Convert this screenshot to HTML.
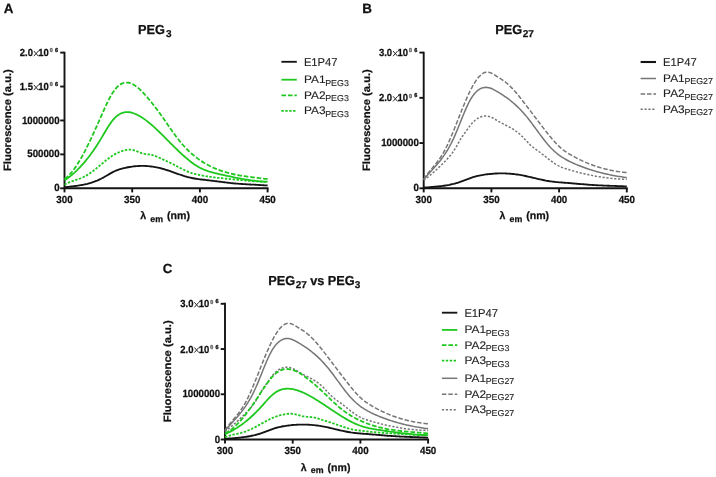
<!DOCTYPE html>
<html><head><meta charset="utf-8"><style>
html,body{margin:0;padding:0;background:#fff;width:716px;height:477px;overflow:hidden}
svg{display:block;filter:blur(0.3px);font-family:"Liberation Sans", sans-serif;text-rendering:geometricPrecision}
</style></head><body>
<svg width="716" height="477" viewBox="0 0 716 477">
<rect width="716" height="477" fill="#fff"/>
<g opacity="0.999">
<text x="3.70" y="12.90" font-size="13.4" font-weight="bold" text-anchor="start" fill="#111111" stroke="#111111" stroke-width="0.25">A</text>
<g transform="translate(137.89,34.20) scale(0.980,1.000)"><text x="0" y="0" font-size="13" font-weight="bold" text-anchor="start" fill="#111111" stroke="#111111" stroke-width="0.25">PEG</text></g>
<text x="166.01" y="36.90" font-size="10" font-weight="bold" text-anchor="start" fill="#111111" stroke="#111111" stroke-width="0.25">3</text>
<path d="M64.50,52.60 V188.30 H267.60" fill="none" stroke="#141414" stroke-width="1.9" stroke-linecap="square"/>
<path d="M60.20,188.30 H64.50" stroke="#141414" stroke-width="1.9"/>
<g transform="translate(59.65,191.40) scale(1.000,1.080)"><text x="0" y="0" font-size="9.7" font-weight="bold" text-anchor="end" fill="#111111" stroke="#111111" stroke-width="0.25">0</text></g>
<path d="M60.20,154.38 H64.50" stroke="#141414" stroke-width="1.9"/>
<g transform="translate(59.65,157.47) scale(1.000,1.080)"><text x="0" y="0" font-size="9.7" font-weight="bold" text-anchor="end" fill="#111111" stroke="#111111" stroke-width="0.25">500000</text></g>
<path d="M60.20,120.45 H64.50" stroke="#141414" stroke-width="1.9"/>
<g transform="translate(59.65,123.55) scale(1.000,1.080)"><text x="0" y="0" font-size="9.7" font-weight="bold" text-anchor="end" fill="#111111" stroke="#111111" stroke-width="0.25">1000000</text></g>
<path d="M60.20,86.53 H64.50" stroke="#141414" stroke-width="1.9"/>
<g transform="translate(19.71,90.03) scale(1.000,1.080)"><text x="0" y="0" font-size="9.5" font-weight="bold" text-anchor="start" fill="#111111" stroke="#111111" stroke-width="0.25">1.5</text></g>
<g transform="translate(38.33,90.03) scale(1.000,1.080)"><text x="0" y="0" font-size="9.5" font-weight="bold" text-anchor="start" fill="#111111" stroke="#111111" stroke-width="0.25">10</text></g>
<path d="M33.80,84.93 L38.40,90.12 M38.40,84.93 L33.80,90.12" stroke="#2a2a2a" stroke-width="1.0"/>
<g transform="translate(49.78,86.33) scale(0.950,1.000)"><text x="0" y="0" font-size="5.6" font-weight="bold" text-anchor="start" fill="#777777" stroke="#777777" stroke-width="0.6">0</text></g>
<g transform="translate(55.07,86.18) scale(0.950,1.000)"><text x="0" y="0" font-size="5.8" font-weight="bold" text-anchor="start" fill="#111111" stroke="#111111" stroke-width="0.35">6</text></g>
<path d="M60.20,52.60 H64.50" stroke="#141414" stroke-width="1.9"/>
<g transform="translate(19.71,56.10) scale(1.000,1.080)"><text x="0" y="0" font-size="9.5" font-weight="bold" text-anchor="start" fill="#111111" stroke="#111111" stroke-width="0.25">2.0</text></g>
<g transform="translate(38.33,56.10) scale(1.000,1.080)"><text x="0" y="0" font-size="9.5" font-weight="bold" text-anchor="start" fill="#111111" stroke="#111111" stroke-width="0.25">10</text></g>
<path d="M33.80,51.00 L38.40,56.20 M38.40,51.00 L33.80,56.20" stroke="#2a2a2a" stroke-width="1.0"/>
<g transform="translate(49.78,52.40) scale(0.950,1.000)"><text x="0" y="0" font-size="5.6" font-weight="bold" text-anchor="start" fill="#777777" stroke="#777777" stroke-width="0.6">0</text></g>
<g transform="translate(55.07,52.25) scale(0.950,1.000)"><text x="0" y="0" font-size="5.8" font-weight="bold" text-anchor="start" fill="#111111" stroke="#111111" stroke-width="0.35">6</text></g>
<path d="M64.50,188.30 V192.40" stroke="#141414" stroke-width="1.9"/>
<g transform="translate(64.50,202.70) scale(1.000,1.050)"><text x="0" y="0" font-size="9.8" font-weight="bold" text-anchor="middle" fill="#111111" stroke="#111111" stroke-width="0.25">300</text></g>
<path d="M132.20,188.30 V192.40" stroke="#141414" stroke-width="1.9"/>
<g transform="translate(132.20,202.70) scale(1.000,1.050)"><text x="0" y="0" font-size="9.8" font-weight="bold" text-anchor="middle" fill="#111111" stroke="#111111" stroke-width="0.25">350</text></g>
<path d="M199.90,188.30 V192.40" stroke="#141414" stroke-width="1.9"/>
<g transform="translate(199.90,202.70) scale(1.000,1.050)"><text x="0" y="0" font-size="9.8" font-weight="bold" text-anchor="middle" fill="#111111" stroke="#111111" stroke-width="0.25">400</text></g>
<path d="M267.60,188.30 V192.40" stroke="#141414" stroke-width="1.9"/>
<g transform="translate(267.60,202.70) scale(1.000,1.050)"><text x="0" y="0" font-size="9.8" font-weight="bold" text-anchor="middle" fill="#111111" stroke="#111111" stroke-width="0.25">450</text></g>
<text transform="translate(10.60,120.10) rotate(-90)" font-size="10.6" font-weight="bold" text-anchor="middle" fill="#111111" stroke="#111111" stroke-width="0.25" textLength="101.8" lengthAdjust="spacingAndGlyphs">Fluorescence (a.u.)</text>
<text x="140.19" y="219.30" font-size="10.6" font-weight="bold" text-anchor="start" fill="#111111" stroke="#111111" stroke-width="0.25">λ</text>
<text x="150.35" y="221.80" font-size="8.8" font-weight="bold" text-anchor="start" fill="#111111" stroke="#111111" stroke-width="0.25">em</text>
<text x="166.97" y="219.30" font-size="10.6" font-weight="bold" text-anchor="start" fill="#111111" stroke="#111111" stroke-width="0.25">(nm)</text>
<path d="M64.50,187.28 65.85,187.13 67.21,186.98 68.56,186.83 69.92,186.67 71.27,186.52 72.62,186.36 73.98,186.20 75.33,186.02 76.69,185.84 78.04,185.64 79.39,185.43 80.75,185.21 82.10,184.97 83.46,184.71 84.81,184.42 86.16,184.12 87.52,183.79 88.87,183.43 90.23,183.04 91.58,182.63 92.93,182.18 94.29,181.70 95.64,181.18 97.00,180.63 98.35,180.04 99.70,179.41 101.06,178.75 102.41,178.05 103.77,177.32 105.12,176.55 106.47,175.76 107.83,174.95 109.18,174.14 110.54,173.36 111.89,172.60 113.24,171.90 114.60,171.25 115.95,170.67 117.31,170.14 118.66,169.65 120.01,169.22 121.37,168.82 122.72,168.45 124.08,168.12 125.43,167.80 126.78,167.51 128.14,167.25 129.49,167.01 130.85,166.79 132.20,166.60 133.55,166.43 134.91,166.28 136.26,166.16 137.62,166.06 138.97,165.99 140.32,165.94 141.68,165.92 143.03,165.92 144.39,165.95 145.74,166.00 147.09,166.08 148.45,166.18 149.80,166.30 151.16,166.46 152.51,166.64 153.86,166.84 155.22,167.07 156.57,167.32 157.93,167.60 159.28,167.91 160.63,168.24 161.99,168.60 163.34,168.99 164.70,169.39 166.05,169.81 167.40,170.25 168.76,170.70 170.11,171.17 171.47,171.64 172.82,172.12 174.17,172.60 175.53,173.08 176.88,173.56 178.24,174.03 179.59,174.50 180.94,174.96 182.30,175.41 183.65,175.84 185.01,176.26 186.36,176.66 187.71,177.03 189.07,177.38 190.42,177.70 191.78,178.00 193.13,178.27 194.48,178.51 195.84,178.73 197.19,178.94 198.55,179.13 199.90,179.30 201.25,179.47 202.61,179.63 203.96,179.78 205.32,179.94 206.67,180.09 208.02,180.25 209.38,180.41 210.73,180.58 212.09,180.75 213.44,180.92 214.79,181.09 216.15,181.26 217.50,181.44 218.86,181.61 220.21,181.78 221.56,181.95 222.92,182.12 224.27,182.29 225.63,182.45 226.98,182.62 228.33,182.77 229.69,182.92 231.04,183.07 232.40,183.21 233.75,183.34 235.10,183.47 236.46,183.59 237.81,183.70 239.17,183.81 240.52,183.91 241.87,184.00 243.23,184.09 244.58,184.18 245.94,184.26 247.29,184.34 248.64,184.41 250.00,184.49 251.35,184.56 252.71,184.63 254.06,184.70 255.41,184.77 256.77,184.85 258.12,184.92 259.48,185.00 260.83,185.07 262.18,185.15 263.54,185.24 264.89,185.33 266.25,185.42 267.60,185.52" fill="none" stroke="#141414" stroke-width="1.85" stroke-linejoin="round"/>
<path d="M64.50,180.29 65.85,179.40 67.21,178.47 68.56,177.48 69.92,176.45 71.27,175.37 72.62,174.24 73.98,173.06 75.33,171.83 76.69,170.56 78.04,169.23 79.39,167.85 80.75,166.42 82.10,164.93 83.46,163.40 84.81,161.81 86.16,160.18 87.52,158.48 88.87,156.74 90.23,154.94 91.58,153.09 92.93,151.19 94.29,149.23 95.64,147.22 97.00,145.15 98.35,143.03 99.70,140.85 101.06,138.62 102.41,136.34 103.77,134.03 105.12,131.72 106.47,129.45 107.83,127.24 109.18,125.13 110.54,123.14 111.89,121.30 113.24,119.62 114.60,118.12 115.95,116.80 117.31,115.67 118.66,114.70 120.01,113.90 121.37,113.25 122.72,112.76 124.08,112.40 125.43,112.18 126.78,112.09 128.14,112.11 129.49,112.24 130.85,112.48 132.20,112.81 133.55,113.24 134.91,113.74 136.26,114.32 137.62,114.96 138.97,115.68 140.32,116.45 141.68,117.29 143.03,118.18 144.39,119.12 145.74,120.11 147.09,121.15 148.45,122.23 149.80,123.35 151.16,124.51 152.51,125.69 153.86,126.91 155.22,128.15 156.57,129.41 157.93,130.70 159.28,132.00 160.63,133.31 161.99,134.64 163.34,135.98 164.70,137.33 166.05,138.69 167.40,140.05 168.76,141.41 170.11,142.77 171.47,144.12 172.82,145.47 174.17,146.81 175.53,148.15 176.88,149.47 178.24,150.77 179.59,152.06 180.94,153.33 182.30,154.57 183.65,155.79 185.01,156.99 186.36,158.15 187.71,159.29 189.07,160.39 190.42,161.45 191.78,162.48 193.13,163.46 194.48,164.40 195.84,165.30 197.19,166.15 198.55,166.94 199.90,167.69 201.25,168.38 202.61,169.02 203.96,169.61 205.32,170.16 206.67,170.67 208.02,171.14 209.38,171.58 210.73,171.98 212.09,172.37 213.44,172.73 214.79,173.07 216.15,173.40 217.50,173.71 218.86,174.02 220.21,174.32 221.56,174.63 222.92,174.93 224.27,175.23 225.63,175.53 226.98,175.83 228.33,176.12 229.69,176.41 231.04,176.70 232.40,176.99 233.75,177.27 235.10,177.54 236.46,177.81 237.81,178.08 239.17,178.34 240.52,178.60 241.87,178.84 243.23,179.08 244.58,179.32 245.94,179.54 247.29,179.76 248.64,179.97 250.00,180.17 251.35,180.36 252.71,180.54 254.06,180.71 255.41,180.87 256.77,181.02 258.12,181.15 259.48,181.28 260.83,181.39 262.18,181.49 263.54,181.58 264.89,181.65 266.25,181.71 267.60,181.76" fill="none" stroke="#1ec81e" stroke-width="1.8" stroke-linejoin="round"/>
<path d="M64.50,178.86 65.85,177.93 67.21,176.83 68.56,175.60 69.92,174.22 71.27,172.70 72.62,171.06 73.98,169.28 75.33,167.39 76.69,165.39 78.04,163.28 79.39,161.07 80.75,158.76 82.10,156.35 83.46,153.87 84.81,151.30 86.16,148.66 87.52,145.95 88.87,143.18 90.23,140.36 91.58,137.48 92.93,134.55 94.29,131.59 95.64,128.59 97.00,125.56 98.35,122.51 99.70,119.44 101.06,116.37 102.41,113.30 103.77,110.27 105.12,107.30 106.47,104.40 107.83,101.61 109.18,98.95 110.54,96.44 111.89,94.10 113.24,91.96 114.60,90.03 115.95,88.35 117.31,86.89 118.66,85.67 120.01,84.66 121.37,83.86 122.72,83.26 124.08,82.85 125.43,82.62 126.78,82.57 128.14,82.69 129.49,82.96 130.85,83.39 132.20,83.95 133.55,84.65 134.91,85.47 136.26,86.41 137.62,87.46 138.97,88.61 140.32,89.84 141.68,91.16 143.03,92.56 144.39,94.02 145.74,95.54 147.09,97.10 148.45,98.71 149.80,100.35 151.16,102.01 152.51,103.70 153.86,105.42 155.22,107.16 156.57,108.94 157.93,110.74 159.28,112.58 160.63,114.46 161.99,116.36 163.34,118.30 164.70,120.25 166.05,122.21 167.40,124.18 168.76,126.14 170.11,128.10 171.47,130.04 172.82,131.96 174.17,133.85 175.53,135.71 176.88,137.52 178.24,139.28 179.59,140.99 180.94,142.64 182.30,144.23 183.65,145.75 185.01,147.22 186.36,148.64 187.71,149.99 189.07,151.30 190.42,152.56 191.78,153.77 193.13,154.93 194.48,156.04 195.84,157.11 197.19,158.15 198.55,159.14 199.90,160.09 201.25,161.00 202.61,161.88 203.96,162.73 205.32,163.54 206.67,164.31 208.02,165.06 209.38,165.77 210.73,166.46 212.09,167.11 213.44,167.74 214.79,168.33 216.15,168.90 217.50,169.45 218.86,169.97 220.21,170.46 221.56,170.93 222.92,171.38 224.27,171.80 225.63,172.21 226.98,172.60 228.33,172.96 229.69,173.31 231.04,173.64 232.40,173.95 233.75,174.25 235.10,174.54 236.46,174.81 237.81,175.06 239.17,175.31 240.52,175.54 241.87,175.76 243.23,175.97 244.58,176.18 245.94,176.38 247.29,176.56 248.64,176.75 250.00,176.93 251.35,177.10 252.71,177.27 254.06,177.44 255.41,177.60 256.77,177.77 258.12,177.93 259.48,178.10 260.83,178.27 262.18,178.44 263.54,178.61 264.89,178.79 266.25,178.97 267.60,179.16" fill="none" stroke="#1ec81e" stroke-width="1.8" stroke-dasharray="4.6 1.9" stroke-linejoin="round"/>
<path d="M64.50,184.77 65.85,184.01 67.21,183.33 68.56,182.70 69.92,182.13 71.27,181.60 72.62,181.11 73.98,180.63 75.33,180.16 76.69,179.70 78.04,179.23 79.39,178.74 80.75,178.22 82.10,177.66 83.46,177.05 84.81,176.38 86.16,175.65 87.52,174.85 88.87,173.99 90.23,173.08 91.58,172.12 92.93,171.12 94.29,170.08 95.64,169.00 97.00,167.90 98.35,166.77 99.70,165.64 101.06,164.50 102.41,163.36 103.77,162.23 105.12,161.11 106.47,160.02 107.83,158.96 109.18,157.94 110.54,156.97 111.89,156.04 113.24,155.18 114.60,154.38 115.95,153.65 117.31,152.99 118.66,152.40 120.01,151.86 121.37,151.37 122.72,150.93 124.08,150.52 125.43,150.16 126.78,149.86 128.14,149.66 129.49,149.58 130.85,149.65 132.20,149.85 133.55,150.16 134.91,150.56 136.26,151.04 137.62,151.55 138.97,152.09 140.32,152.61 141.68,153.11 143.03,153.54 144.39,153.89 145.74,154.13 147.09,154.31 148.45,154.45 149.80,154.60 151.16,154.79 152.51,155.05 153.86,155.42 155.22,155.90 156.57,156.47 157.93,157.10 159.28,157.76 160.63,158.41 161.99,159.04 163.34,159.66 164.70,160.27 166.05,160.88 167.40,161.49 168.76,162.12 170.11,162.76 171.47,163.42 172.82,164.11 174.17,164.81 175.53,165.52 176.88,166.24 178.24,166.95 179.59,167.67 180.94,168.37 182.30,169.06 183.65,169.73 185.01,170.37 186.36,170.99 187.71,171.57 189.07,172.12 190.42,172.62 191.78,173.07 193.13,173.49 194.48,173.86 195.84,174.21 197.19,174.52 198.55,174.81 199.90,175.09 201.25,175.35 202.61,175.60 203.96,175.85 205.32,176.08 206.67,176.30 208.02,176.51 209.38,176.71 210.73,176.91 212.09,177.09 213.44,177.27 214.79,177.44 216.15,177.61 217.50,177.77 218.86,177.92 220.21,178.07 221.56,178.22 222.92,178.36 224.27,178.50 225.63,178.63 226.98,178.76 228.33,178.90 229.69,179.03 231.04,179.15 232.40,179.28 233.75,179.41 235.10,179.54 236.46,179.67 237.81,179.80 239.17,179.93 240.52,180.06 241.87,180.19 243.23,180.32 244.58,180.45 245.94,180.57 247.29,180.70 248.64,180.82 250.00,180.93 251.35,181.04 252.71,181.15 254.06,181.25 255.41,181.35 256.77,181.44 258.12,181.53 259.48,181.61 260.83,181.68 262.18,181.75 263.54,181.80 264.89,181.85 266.25,181.89 267.60,181.92" fill="none" stroke="#1ec81e" stroke-width="1.8" stroke-dasharray="2.4 1.5" stroke-linejoin="round"/>
<path d="M281.40,61.80 H296.80" stroke="#141414" stroke-width="1.85"/><g transform="translate(303.89,65.80) scale(0.985,1.000)"><text x="0" y="0" font-size="11.4" font-weight="normal" text-anchor="start" fill="#1e1e1e" stroke="#1e1e1e" stroke-width="0.12">E1P47</text></g>
<path d="M281.40,79.70 H296.80" stroke="#1ec81e" stroke-width="1.8"/><g transform="translate(303.92,83.00) scale(1.080,1.000)"><text x="0" y="0" font-size="11" font-weight="normal" text-anchor="start" fill="#1e1e1e" stroke="#1e1e1e" stroke-width="0.12">PA1</text></g><g transform="translate(325.21,85.50) scale(1.030,1.000)"><text x="0" y="0" font-size="8.6" font-weight="normal" text-anchor="start" fill="#1e1e1e" stroke="#1e1e1e" stroke-width="0.12">PEG3</text></g>
<path d="M281.40,95.30 H296.80" stroke="#1ec81e" stroke-width="1.8" stroke-dasharray="4.6 1.9"/><g transform="translate(303.92,98.60) scale(1.080,1.000)"><text x="0" y="0" font-size="11" font-weight="normal" text-anchor="start" fill="#1e1e1e" stroke="#1e1e1e" stroke-width="0.12">PA2</text></g><g transform="translate(325.21,101.10) scale(1.030,1.000)"><text x="0" y="0" font-size="8.6" font-weight="normal" text-anchor="start" fill="#1e1e1e" stroke="#1e1e1e" stroke-width="0.12">PEG3</text></g>
<path d="M281.40,110.80 H296.80" stroke="#1ec81e" stroke-width="1.8" stroke-dasharray="2.4 1.5"/><g transform="translate(303.92,114.10) scale(1.080,1.000)"><text x="0" y="0" font-size="11" font-weight="normal" text-anchor="start" fill="#1e1e1e" stroke="#1e1e1e" stroke-width="0.12">PA3</text></g><g transform="translate(325.21,116.60) scale(1.030,1.000)"><text x="0" y="0" font-size="8.6" font-weight="normal" text-anchor="start" fill="#1e1e1e" stroke="#1e1e1e" stroke-width="0.12">PEG3</text></g>
<text x="362.26" y="12.90" font-size="13.4" font-weight="bold" text-anchor="start" fill="#111111" stroke="#111111" stroke-width="0.25">B</text>
<g transform="translate(495.29,34.20) scale(0.980,1.000)"><text x="0" y="0" font-size="13" font-weight="bold" text-anchor="start" fill="#111111" stroke="#111111" stroke-width="0.25">PEG</text></g>
<text x="522.72" y="36.90" font-size="10" font-weight="bold" text-anchor="start" fill="#111111" stroke="#111111" stroke-width="0.25">27</text>
<path d="M423.70,52.60 V188.30 H626.80" fill="none" stroke="#141414" stroke-width="1.9" stroke-linecap="square"/>
<path d="M419.40,188.30 H423.70" stroke="#141414" stroke-width="1.9"/>
<g transform="translate(418.85,191.40) scale(1.000,1.080)"><text x="0" y="0" font-size="9.7" font-weight="bold" text-anchor="end" fill="#111111" stroke="#111111" stroke-width="0.25">0</text></g>
<path d="M419.40,143.07 H423.70" stroke="#141414" stroke-width="1.9"/>
<g transform="translate(418.85,146.17) scale(1.000,1.080)"><text x="0" y="0" font-size="9.7" font-weight="bold" text-anchor="end" fill="#111111" stroke="#111111" stroke-width="0.25">1000000</text></g>
<path d="M419.40,97.83 H423.70" stroke="#141414" stroke-width="1.9"/>
<g transform="translate(378.91,101.33) scale(1.000,1.080)"><text x="0" y="0" font-size="9.5" font-weight="bold" text-anchor="start" fill="#111111" stroke="#111111" stroke-width="0.25">2.0</text></g>
<g transform="translate(397.53,101.33) scale(1.000,1.080)"><text x="0" y="0" font-size="9.5" font-weight="bold" text-anchor="start" fill="#111111" stroke="#111111" stroke-width="0.25">10</text></g>
<path d="M393.00,96.23 L397.60,101.43 M397.60,96.23 L393.00,101.43" stroke="#2a2a2a" stroke-width="1.0"/>
<g transform="translate(408.98,97.63) scale(0.950,1.000)"><text x="0" y="0" font-size="5.6" font-weight="bold" text-anchor="start" fill="#777777" stroke="#777777" stroke-width="0.6">0</text></g>
<g transform="translate(414.27,97.48) scale(0.950,1.000)"><text x="0" y="0" font-size="5.8" font-weight="bold" text-anchor="start" fill="#111111" stroke="#111111" stroke-width="0.35">6</text></g>
<path d="M419.40,52.60 H423.70" stroke="#141414" stroke-width="1.9"/>
<g transform="translate(378.91,56.10) scale(1.000,1.080)"><text x="0" y="0" font-size="9.5" font-weight="bold" text-anchor="start" fill="#111111" stroke="#111111" stroke-width="0.25">3.0</text></g>
<g transform="translate(397.53,56.10) scale(1.000,1.080)"><text x="0" y="0" font-size="9.5" font-weight="bold" text-anchor="start" fill="#111111" stroke="#111111" stroke-width="0.25">10</text></g>
<path d="M393.00,51.00 L397.60,56.20 M397.60,51.00 L393.00,56.20" stroke="#2a2a2a" stroke-width="1.0"/>
<g transform="translate(408.98,52.40) scale(0.950,1.000)"><text x="0" y="0" font-size="5.6" font-weight="bold" text-anchor="start" fill="#777777" stroke="#777777" stroke-width="0.6">0</text></g>
<g transform="translate(414.27,52.25) scale(0.950,1.000)"><text x="0" y="0" font-size="5.8" font-weight="bold" text-anchor="start" fill="#111111" stroke="#111111" stroke-width="0.35">6</text></g>
<path d="M423.70,188.30 V192.40" stroke="#141414" stroke-width="1.9"/>
<g transform="translate(423.70,202.70) scale(1.000,1.050)"><text x="0" y="0" font-size="9.8" font-weight="bold" text-anchor="middle" fill="#111111" stroke="#111111" stroke-width="0.25">300</text></g>
<path d="M491.40,188.30 V192.40" stroke="#141414" stroke-width="1.9"/>
<g transform="translate(491.40,202.70) scale(1.000,1.050)"><text x="0" y="0" font-size="9.8" font-weight="bold" text-anchor="middle" fill="#111111" stroke="#111111" stroke-width="0.25">350</text></g>
<path d="M559.10,188.30 V192.40" stroke="#141414" stroke-width="1.9"/>
<g transform="translate(559.10,202.70) scale(1.000,1.050)"><text x="0" y="0" font-size="9.8" font-weight="bold" text-anchor="middle" fill="#111111" stroke="#111111" stroke-width="0.25">400</text></g>
<path d="M626.80,188.30 V192.40" stroke="#141414" stroke-width="1.9"/>
<g transform="translate(626.80,202.70) scale(1.000,1.050)"><text x="0" y="0" font-size="9.8" font-weight="bold" text-anchor="middle" fill="#111111" stroke="#111111" stroke-width="0.25">450</text></g>
<text transform="translate(369.80,120.10) rotate(-90)" font-size="10.6" font-weight="bold" text-anchor="middle" fill="#111111" stroke="#111111" stroke-width="0.25" textLength="101.8" lengthAdjust="spacingAndGlyphs">Fluorescence (a.u.)</text>
<text x="499.39" y="219.30" font-size="10.6" font-weight="bold" text-anchor="start" fill="#111111" stroke="#111111" stroke-width="0.25">λ</text>
<text x="509.55" y="221.80" font-size="8.8" font-weight="bold" text-anchor="start" fill="#111111" stroke="#111111" stroke-width="0.25">em</text>
<text x="526.17" y="219.30" font-size="10.6" font-weight="bold" text-anchor="start" fill="#111111" stroke="#111111" stroke-width="0.25">(nm)</text>
<path d="M423.70,187.62 425.05,187.52 426.41,187.42 427.76,187.32 429.12,187.22 430.47,187.11 431.82,187.01 433.18,186.90 434.53,186.78 435.89,186.66 437.24,186.53 438.59,186.39 439.95,186.24 441.30,186.08 442.66,185.90 444.01,185.71 445.36,185.51 446.72,185.29 448.07,185.05 449.43,184.80 450.78,184.52 452.13,184.22 453.49,183.90 454.84,183.55 456.20,183.18 457.55,182.79 458.90,182.37 460.26,181.93 461.61,181.47 462.97,180.98 464.32,180.47 465.67,179.94 467.03,179.40 468.38,178.86 469.74,178.34 471.09,177.83 472.44,177.36 473.80,176.93 475.15,176.54 476.51,176.19 477.86,175.87 479.21,175.58 480.57,175.31 481.92,175.07 483.28,174.84 484.63,174.64 485.98,174.44 487.34,174.27 488.69,174.10 490.05,173.96 491.40,173.83 492.75,173.72 494.11,173.62 495.46,173.54 496.82,173.48 498.17,173.43 499.52,173.40 500.88,173.38 502.23,173.38 503.59,173.40 504.94,173.43 506.29,173.48 507.65,173.55 509.00,173.64 510.36,173.74 511.71,173.86 513.06,173.99 514.42,174.15 515.77,174.32 517.13,174.50 518.48,174.71 519.83,174.93 521.19,175.17 522.54,175.42 523.90,175.69 525.25,175.98 526.60,176.27 527.96,176.57 529.31,176.88 530.67,177.19 532.02,177.51 533.37,177.83 534.73,178.15 536.08,178.47 537.44,178.79 538.79,179.10 540.14,179.41 541.50,179.71 542.85,180.00 544.21,180.27 545.56,180.54 546.91,180.79 548.27,181.02 549.62,181.24 550.98,181.43 552.33,181.61 553.68,181.77 555.04,181.92 556.39,182.06 557.75,182.18 559.10,182.30 560.45,182.41 561.81,182.52 563.16,182.62 564.52,182.72 565.87,182.83 567.22,182.93 568.58,183.04 569.93,183.15 571.29,183.26 572.64,183.38 573.99,183.49 575.35,183.61 576.70,183.72 578.06,183.84 579.41,183.96 580.76,184.07 582.12,184.18 583.47,184.29 584.83,184.40 586.18,184.51 587.53,184.61 588.89,184.72 590.24,184.81 591.60,184.91 592.95,185.00 594.30,185.08 595.66,185.16 597.01,185.23 598.37,185.30 599.72,185.37 601.07,185.43 602.43,185.49 603.78,185.55 605.14,185.61 606.49,185.66 607.84,185.71 609.20,185.76 610.55,185.81 611.91,185.85 613.26,185.90 614.61,185.95 615.97,186.00 617.32,186.05 618.68,186.10 620.03,186.15 621.38,186.20 622.74,186.26 624.09,186.32 625.45,186.38 626.80,186.45" fill="none" stroke="#141414" stroke-width="1.85" stroke-linejoin="round"/>
<path d="M423.70,179.62 425.05,177.99 426.41,176.41 427.76,174.86 429.12,173.35 430.47,171.85 431.82,170.35 433.18,168.85 434.53,167.34 435.89,165.80 437.24,164.22 438.59,162.60 439.95,160.92 441.30,159.17 442.66,157.34 444.01,155.42 445.36,153.40 446.72,151.27 448.07,149.02 449.43,146.64 450.78,144.11 452.13,141.43 453.49,138.58 454.84,135.57 456.20,132.42 457.55,129.17 458.90,125.84 460.26,122.48 461.61,119.11 462.97,115.79 464.32,112.53 465.67,109.37 467.03,106.36 468.38,103.52 469.74,100.88 471.09,98.49 472.44,96.38 473.80,94.52 475.15,92.91 476.51,91.54 477.86,90.38 479.21,89.42 480.57,88.65 481.92,88.06 483.28,87.64 484.63,87.40 485.98,87.32 487.34,87.41 488.69,87.66 490.05,88.05 491.40,88.55 492.75,89.16 494.11,89.84 495.46,90.58 496.82,91.35 498.17,92.15 499.52,92.98 500.88,93.82 502.23,94.69 503.59,95.59 504.94,96.51 506.29,97.46 507.65,98.45 509.00,99.47 510.36,100.53 511.71,101.62 513.06,102.75 514.42,103.92 515.77,105.14 517.13,106.40 518.48,107.71 519.83,109.06 521.19,110.47 522.54,111.93 523.90,113.44 525.25,115.01 526.60,116.63 527.96,118.31 529.31,120.04 530.67,121.81 532.02,123.61 533.37,125.43 534.73,127.27 536.08,129.12 537.44,130.98 538.79,132.82 540.14,134.66 541.50,136.47 542.85,138.25 544.21,140.00 545.56,141.70 546.91,143.35 548.27,144.94 549.62,146.46 550.98,147.91 552.33,149.28 553.68,150.58 555.04,151.81 556.39,152.97 557.75,154.06 559.10,155.10 560.45,156.08 561.81,157.01 563.16,157.89 564.52,158.72 565.87,159.50 567.22,160.25 568.58,160.97 569.93,161.65 571.29,162.30 572.64,162.92 573.99,163.52 575.35,164.11 576.70,164.68 578.06,165.23 579.41,165.77 580.76,166.30 582.12,166.82 583.47,167.32 584.83,167.81 586.18,168.28 587.53,168.75 588.89,169.20 590.24,169.64 591.60,170.07 592.95,170.48 594.30,170.89 595.66,171.28 597.01,171.66 598.37,172.03 599.72,172.39 601.07,172.74 602.43,173.08 603.78,173.41 605.14,173.73 606.49,174.04 607.84,174.34 609.20,174.62 610.55,174.90 611.91,175.17 613.26,175.43 614.61,175.69 615.97,175.93 617.32,176.16 618.68,176.39 620.03,176.61 621.38,176.82 622.74,177.02 624.09,177.22 625.45,177.40 626.80,177.58" fill="none" stroke="#767676" stroke-width="1.5" stroke-linejoin="round"/>
<path d="M423.70,179.21 425.05,177.22 426.41,175.35 427.76,173.57 429.12,171.87 430.47,170.22 431.82,168.61 433.18,166.99 434.53,165.37 435.89,163.70 437.24,161.98 438.59,160.17 439.95,158.26 441.30,156.22 442.66,154.04 444.01,151.68 445.36,149.14 446.72,146.42 448.07,143.55 449.43,140.54 450.78,137.42 452.13,134.20 453.49,130.91 454.84,127.56 456.20,124.18 457.55,120.77 458.90,117.35 460.26,113.94 461.61,110.56 462.97,107.23 464.32,103.95 465.67,100.75 467.03,97.64 468.38,94.65 469.74,91.78 471.09,89.05 472.44,86.48 473.80,84.09 475.15,81.88 476.51,79.88 477.86,78.09 479.21,76.52 480.57,75.17 481.92,74.05 483.28,73.18 484.63,72.55 485.98,72.19 487.34,72.09 488.69,72.25 490.05,72.63 491.40,73.19 492.75,73.89 494.11,74.67 495.46,75.50 496.82,76.34 498.17,77.17 499.52,78.01 500.88,78.87 502.23,79.76 503.59,80.70 504.94,81.71 506.29,82.78 507.65,83.94 509.00,85.18 510.36,86.49 511.71,87.87 513.06,89.31 514.42,90.81 515.77,92.36 517.13,93.96 518.48,95.60 519.83,97.27 521.19,98.98 522.54,100.71 523.90,102.46 525.25,104.22 526.60,106.00 527.96,107.78 529.31,109.56 530.67,111.35 532.02,113.14 533.37,114.93 534.73,116.72 536.08,118.50 537.44,120.28 538.79,122.06 540.14,123.83 541.50,125.60 542.85,127.35 544.21,129.09 545.56,130.83 546.91,132.55 548.27,134.25 549.62,135.92 550.98,137.57 552.33,139.18 553.68,140.74 555.04,142.25 556.39,143.70 557.75,145.08 559.10,146.39 560.45,147.62 561.81,148.77 563.16,149.84 564.52,150.84 565.87,151.78 567.22,152.68 568.58,153.53 569.93,154.35 571.29,155.15 572.64,155.93 573.99,156.69 575.35,157.43 576.70,158.14 578.06,158.84 579.41,159.52 580.76,160.18 582.12,160.82 583.47,161.43 584.83,162.03 586.18,162.62 587.53,163.18 588.89,163.73 590.24,164.25 591.60,164.76 592.95,165.26 594.30,165.73 595.66,166.19 597.01,166.63 598.37,167.06 599.72,167.47 601.07,167.86 602.43,168.24 603.78,168.60 605.14,168.95 606.49,169.28 607.84,169.60 609.20,169.90 610.55,170.19 611.91,170.46 613.26,170.72 614.61,170.97 615.97,171.21 617.32,171.43 618.68,171.63 620.03,171.83 621.38,172.01 622.74,172.19 624.09,172.35 625.45,172.49 626.80,172.63" fill="none" stroke="#767676" stroke-width="1.5" stroke-dasharray="4.5 1.9" stroke-linejoin="round"/>
<path d="M423.70,180.39 425.05,179.37 426.41,178.31 427.76,177.23 429.12,176.12 430.47,174.99 431.82,173.83 433.18,172.64 434.53,171.43 435.89,170.19 437.24,168.94 438.59,167.66 439.95,166.36 441.30,165.04 442.66,163.70 444.01,162.35 445.36,160.97 446.72,159.56 448.07,158.09 449.43,156.55 450.78,154.91 452.13,153.15 453.49,151.26 454.84,149.21 456.20,146.98 457.55,144.59 458.90,142.12 460.26,139.73 461.61,137.51 462.97,135.51 464.32,133.63 465.67,131.79 467.03,129.91 468.38,127.99 469.74,126.13 471.09,124.41 472.44,122.86 473.80,121.47 475.15,120.25 476.51,119.18 477.86,118.27 479.21,117.52 480.57,116.92 481.92,116.47 483.28,116.17 484.63,116.01 485.98,116.00 487.34,116.13 488.69,116.40 490.05,116.81 491.40,117.35 492.75,118.00 494.11,118.73 495.46,119.52 496.82,120.34 498.17,121.17 499.52,121.97 500.88,122.74 502.23,123.46 503.59,124.15 504.94,124.82 506.29,125.49 507.65,126.18 509.00,126.88 510.36,127.62 511.71,128.39 513.06,129.21 514.42,130.08 515.77,131.01 517.13,132.00 518.48,133.08 519.83,134.24 521.19,135.49 522.54,136.83 523.90,138.24 525.25,139.69 526.60,141.14 527.96,142.57 529.31,143.95 530.67,145.24 532.02,146.43 533.37,147.53 534.73,148.57 536.08,149.57 537.44,150.54 538.79,151.51 540.14,152.50 541.50,153.51 542.85,154.55 544.21,155.61 545.56,156.68 546.91,157.75 548.27,158.82 549.62,159.87 550.98,160.90 552.33,161.90 553.68,162.86 555.04,163.77 556.39,164.63 557.75,165.43 559.10,166.16 560.45,166.81 561.81,167.38 563.16,167.88 564.52,168.33 565.87,168.76 567.22,169.18 568.58,169.59 569.93,169.99 571.29,170.39 572.64,170.77 573.99,171.15 575.35,171.53 576.70,171.89 578.06,172.25 579.41,172.60 580.76,172.94 582.12,173.27 583.47,173.59 584.83,173.91 586.18,174.22 587.53,174.52 588.89,174.81 590.24,175.09 591.60,175.37 592.95,175.63 594.30,175.89 595.66,176.14 597.01,176.38 598.37,176.61 599.72,176.83 601.07,177.04 602.43,177.25 603.78,177.44 605.14,177.62 606.49,177.80 607.84,177.96 609.20,178.12 610.55,178.27 611.91,178.40 613.26,178.53 614.61,178.65 615.97,178.75 617.32,178.85 618.68,178.94 620.03,179.01 621.38,179.08 622.74,179.14 624.09,179.18 625.45,179.22 626.80,179.24" fill="none" stroke="#767676" stroke-width="1.5" stroke-dasharray="2.2 1.7" stroke-linejoin="round"/>
<path d="M640.60,62.00 H656.00" stroke="#141414" stroke-width="2.1"/><g transform="translate(663.09,66.00) scale(0.985,1.000)"><text x="0" y="0" font-size="11.4" font-weight="normal" text-anchor="start" fill="#1e1e1e" stroke="#1e1e1e" stroke-width="0.12">E1P47</text></g>
<path d="M640.60,78.50 H656.00" stroke="#767676" stroke-width="1.5"/><g transform="translate(663.12,81.80) scale(1.080,1.000)"><text x="0" y="0" font-size="11" font-weight="normal" text-anchor="start" fill="#1e1e1e" stroke="#1e1e1e" stroke-width="0.12">PA1</text></g><g transform="translate(684.41,84.30) scale(1.030,1.000)"><text x="0" y="0" font-size="8.6" font-weight="normal" text-anchor="start" fill="#1e1e1e" stroke="#1e1e1e" stroke-width="0.12">PEG27</text></g>
<path d="M640.60,93.90 H656.00" stroke="#767676" stroke-width="1.5" stroke-dasharray="4.5 1.9"/><g transform="translate(663.12,97.20) scale(1.080,1.000)"><text x="0" y="0" font-size="11" font-weight="normal" text-anchor="start" fill="#1e1e1e" stroke="#1e1e1e" stroke-width="0.12">PA2</text></g><g transform="translate(684.41,99.70) scale(1.030,1.000)"><text x="0" y="0" font-size="8.6" font-weight="normal" text-anchor="start" fill="#1e1e1e" stroke="#1e1e1e" stroke-width="0.12">PEG27</text></g>
<path d="M640.60,109.20 H656.00" stroke="#767676" stroke-width="1.5" stroke-dasharray="2.2 1.7"/><g transform="translate(663.12,112.50) scale(1.080,1.000)"><text x="0" y="0" font-size="11" font-weight="normal" text-anchor="start" fill="#1e1e1e" stroke="#1e1e1e" stroke-width="0.12">PA3</text></g><g transform="translate(684.41,115.00) scale(1.030,1.000)"><text x="0" y="0" font-size="8.6" font-weight="normal" text-anchor="start" fill="#1e1e1e" stroke="#1e1e1e" stroke-width="0.12">PEG27</text></g>
<text x="162.67" y="272.60" font-size="13.2" font-weight="bold" text-anchor="start" fill="#111111" stroke="#111111" stroke-width="0.25">C</text>
<g transform="translate(268.29,285.10) scale(0.980,1.000)"><text x="0" y="0" font-size="13" font-weight="bold" text-anchor="start" fill="#111111" stroke="#111111" stroke-width="0.25">PEG</text></g>
<text x="295.72" y="287.80" font-size="10" font-weight="bold" text-anchor="start" fill="#111111" stroke="#111111" stroke-width="0.25">27</text>
<g transform="translate(310.17,285.10) scale(0.980,1.000)"><text x="0" y="0" font-size="13" font-weight="bold" text-anchor="start" fill="#111111" stroke="#111111" stroke-width="0.25">vs</text></g>
<g transform="translate(327.79,285.10) scale(0.980,1.000)"><text x="0" y="0" font-size="13" font-weight="bold" text-anchor="start" fill="#111111" stroke="#111111" stroke-width="0.25">PEG</text></g>
<text x="354.81" y="287.80" font-size="10" font-weight="bold" text-anchor="start" fill="#111111" stroke="#111111" stroke-width="0.25">3</text>
<path d="M225.00,303.80 V439.50 H428.10" fill="none" stroke="#141414" stroke-width="1.9" stroke-linecap="square"/>
<path d="M220.70,439.50 H225.00" stroke="#141414" stroke-width="1.9"/>
<g transform="translate(220.15,442.60) scale(1.000,1.080)"><text x="0" y="0" font-size="9.7" font-weight="bold" text-anchor="end" fill="#111111" stroke="#111111" stroke-width="0.25">0</text></g>
<path d="M220.70,394.27 H225.00" stroke="#141414" stroke-width="1.9"/>
<g transform="translate(220.15,397.37) scale(1.000,1.080)"><text x="0" y="0" font-size="9.7" font-weight="bold" text-anchor="end" fill="#111111" stroke="#111111" stroke-width="0.25">1000000</text></g>
<path d="M220.70,349.03 H225.00" stroke="#141414" stroke-width="1.9"/>
<g transform="translate(180.22,352.53) scale(1.000,1.080)"><text x="0" y="0" font-size="9.5" font-weight="bold" text-anchor="start" fill="#111111" stroke="#111111" stroke-width="0.25">2.0</text></g>
<g transform="translate(198.83,352.53) scale(1.000,1.080)"><text x="0" y="0" font-size="9.5" font-weight="bold" text-anchor="start" fill="#111111" stroke="#111111" stroke-width="0.25">10</text></g>
<path d="M194.30,347.43 L198.90,352.63 M198.90,347.43 L194.30,352.63" stroke="#2a2a2a" stroke-width="1.0"/>
<g transform="translate(210.28,348.83) scale(0.950,1.000)"><text x="0" y="0" font-size="5.6" font-weight="bold" text-anchor="start" fill="#777777" stroke="#777777" stroke-width="0.6">0</text></g>
<g transform="translate(215.57,348.68) scale(0.950,1.000)"><text x="0" y="0" font-size="5.8" font-weight="bold" text-anchor="start" fill="#111111" stroke="#111111" stroke-width="0.35">6</text></g>
<path d="M220.70,303.80 H225.00" stroke="#141414" stroke-width="1.9"/>
<g transform="translate(180.22,307.30) scale(1.000,1.080)"><text x="0" y="0" font-size="9.5" font-weight="bold" text-anchor="start" fill="#111111" stroke="#111111" stroke-width="0.25">3.0</text></g>
<g transform="translate(198.83,307.30) scale(1.000,1.080)"><text x="0" y="0" font-size="9.5" font-weight="bold" text-anchor="start" fill="#111111" stroke="#111111" stroke-width="0.25">10</text></g>
<path d="M194.30,302.20 L198.90,307.40 M198.90,302.20 L194.30,307.40" stroke="#2a2a2a" stroke-width="1.0"/>
<g transform="translate(210.28,303.60) scale(0.950,1.000)"><text x="0" y="0" font-size="5.6" font-weight="bold" text-anchor="start" fill="#777777" stroke="#777777" stroke-width="0.6">0</text></g>
<g transform="translate(215.57,303.45) scale(0.950,1.000)"><text x="0" y="0" font-size="5.8" font-weight="bold" text-anchor="start" fill="#111111" stroke="#111111" stroke-width="0.35">6</text></g>
<path d="M225.00,439.50 V443.60" stroke="#141414" stroke-width="1.9"/>
<g transform="translate(225.00,453.90) scale(1.000,1.050)"><text x="0" y="0" font-size="9.8" font-weight="bold" text-anchor="middle" fill="#111111" stroke="#111111" stroke-width="0.25">300</text></g>
<path d="M292.70,439.50 V443.60" stroke="#141414" stroke-width="1.9"/>
<g transform="translate(292.70,453.90) scale(1.000,1.050)"><text x="0" y="0" font-size="9.8" font-weight="bold" text-anchor="middle" fill="#111111" stroke="#111111" stroke-width="0.25">350</text></g>
<path d="M360.40,439.50 V443.60" stroke="#141414" stroke-width="1.9"/>
<g transform="translate(360.40,453.90) scale(1.000,1.050)"><text x="0" y="0" font-size="9.8" font-weight="bold" text-anchor="middle" fill="#111111" stroke="#111111" stroke-width="0.25">400</text></g>
<path d="M428.10,439.50 V443.60" stroke="#141414" stroke-width="1.9"/>
<g transform="translate(428.10,453.90) scale(1.000,1.050)"><text x="0" y="0" font-size="9.8" font-weight="bold" text-anchor="middle" fill="#111111" stroke="#111111" stroke-width="0.25">450</text></g>
<text transform="translate(171.10,371.30) rotate(-90)" font-size="10.6" font-weight="bold" text-anchor="middle" fill="#111111" stroke="#111111" stroke-width="0.25" textLength="101.8" lengthAdjust="spacingAndGlyphs">Fluorescence (a.u.)</text>
<text x="300.69" y="470.50" font-size="10.6" font-weight="bold" text-anchor="start" fill="#111111" stroke="#111111" stroke-width="0.25">λ</text>
<text x="310.85" y="473.00" font-size="8.8" font-weight="bold" text-anchor="start" fill="#111111" stroke="#111111" stroke-width="0.25">em</text>
<text x="327.47" y="470.50" font-size="10.6" font-weight="bold" text-anchor="start" fill="#111111" stroke="#111111" stroke-width="0.25">(nm)</text>
<path d="M225.00,438.82 226.35,438.72 227.71,438.62 229.06,438.52 230.42,438.42 231.77,438.31 233.12,438.21 234.48,438.10 235.83,437.98 237.19,437.86 238.54,437.73 239.89,437.59 241.25,437.44 242.60,437.28 243.96,437.10 245.31,436.91 246.66,436.71 248.02,436.49 249.37,436.25 250.73,436.00 252.08,435.72 253.43,435.42 254.79,435.10 256.14,434.75 257.50,434.38 258.85,433.99 260.20,433.57 261.56,433.13 262.91,432.67 264.27,432.18 265.62,431.67 266.97,431.14 268.33,430.60 269.68,430.06 271.04,429.54 272.39,429.03 273.74,428.56 275.10,428.13 276.45,427.74 277.81,427.39 279.16,427.07 280.51,426.78 281.87,426.51 283.22,426.27 284.58,426.04 285.93,425.84 287.28,425.64 288.64,425.47 289.99,425.30 291.35,425.16 292.70,425.03 294.05,424.92 295.41,424.82 296.76,424.74 298.12,424.68 299.47,424.63 300.82,424.60 302.18,424.58 303.53,424.58 304.89,424.60 306.24,424.63 307.59,424.68 308.95,424.75 310.30,424.84 311.66,424.94 313.01,425.06 314.36,425.19 315.72,425.35 317.07,425.52 318.43,425.70 319.78,425.91 321.13,426.13 322.49,426.37 323.84,426.62 325.20,426.89 326.55,427.18 327.90,427.47 329.26,427.77 330.61,428.08 331.97,428.39 333.32,428.71 334.67,429.03 336.03,429.35 337.38,429.67 338.74,429.99 340.09,430.30 341.44,430.61 342.80,430.91 344.15,431.20 345.51,431.47 346.86,431.74 348.21,431.99 349.57,432.22 350.92,432.44 352.28,432.63 353.63,432.81 354.98,432.97 356.34,433.12 357.69,433.26 359.05,433.38 360.40,433.50 361.75,433.61 363.11,433.72 364.46,433.82 365.82,433.92 367.17,434.03 368.52,434.13 369.88,434.24 371.23,434.35 372.59,434.46 373.94,434.58 375.29,434.69 376.65,434.81 378.00,434.92 379.36,435.04 380.71,435.16 382.06,435.27 383.42,435.38 384.77,435.49 386.13,435.60 387.48,435.71 388.83,435.81 390.19,435.92 391.54,436.01 392.90,436.11 394.25,436.20 395.60,436.28 396.96,436.36 398.31,436.43 399.67,436.50 401.02,436.57 402.37,436.63 403.73,436.69 405.08,436.75 406.44,436.81 407.79,436.86 409.14,436.91 410.50,436.96 411.85,437.01 413.21,437.05 414.56,437.10 415.91,437.15 417.27,437.20 418.62,437.25 419.98,437.30 421.33,437.35 422.68,437.40 424.04,437.46 425.39,437.52 426.75,437.58 428.10,437.65" fill="none" stroke="#141414" stroke-width="1.85" stroke-linejoin="round"/>
<path d="M225.00,430.82 226.35,429.19 227.71,427.61 229.06,426.06 230.42,424.55 231.77,423.05 233.12,421.55 234.48,420.05 235.83,418.54 237.19,417.00 238.54,415.42 239.89,413.80 241.25,412.12 242.60,410.37 243.96,408.54 245.31,406.62 246.66,404.60 248.02,402.47 249.37,400.22 250.73,397.84 252.08,395.31 253.43,392.63 254.79,389.78 256.14,386.77 257.50,383.62 258.85,380.37 260.20,377.04 261.56,373.68 262.91,370.31 264.27,366.99 265.62,363.73 266.97,360.57 268.33,357.56 269.68,354.72 271.04,352.08 272.39,349.69 273.74,347.58 275.10,345.72 276.45,344.11 277.81,342.74 279.16,341.58 280.51,340.62 281.87,339.85 283.22,339.26 284.58,338.84 285.93,338.60 287.28,338.52 288.64,338.61 289.99,338.86 291.35,339.25 292.70,339.75 294.05,340.36 295.41,341.04 296.76,341.78 298.12,342.55 299.47,343.35 300.82,344.18 302.18,345.02 303.53,345.89 304.89,346.79 306.24,347.71 307.59,348.66 308.95,349.65 310.30,350.67 311.66,351.73 313.01,352.82 314.36,353.95 315.72,355.12 317.07,356.34 318.43,357.60 319.78,358.91 321.13,360.26 322.49,361.67 323.84,363.13 325.20,364.64 326.55,366.21 327.90,367.83 329.26,369.51 330.61,371.24 331.97,373.01 333.32,374.81 334.67,376.63 336.03,378.47 337.38,380.32 338.74,382.18 340.09,384.02 341.44,385.86 342.80,387.67 344.15,389.45 345.51,391.20 346.86,392.90 348.21,394.55 349.57,396.14 350.92,397.66 352.28,399.11 353.63,400.48 354.98,401.78 356.34,403.01 357.69,404.17 359.05,405.26 360.40,406.30 361.75,407.28 363.11,408.21 364.46,409.09 365.82,409.92 367.17,410.70 368.52,411.45 369.88,412.17 371.23,412.85 372.59,413.50 373.94,414.12 375.29,414.72 376.65,415.31 378.00,415.88 379.36,416.43 380.71,416.97 382.06,417.50 383.42,418.02 384.77,418.52 386.13,419.01 387.48,419.48 388.83,419.95 390.19,420.40 391.54,420.84 392.90,421.27 394.25,421.68 395.60,422.09 396.96,422.48 398.31,422.86 399.67,423.23 401.02,423.59 402.37,423.94 403.73,424.28 405.08,424.61 406.44,424.93 407.79,425.24 409.14,425.54 410.50,425.82 411.85,426.10 413.21,426.37 414.56,426.63 415.91,426.89 417.27,427.13 418.62,427.36 419.98,427.59 421.33,427.81 422.68,428.02 424.04,428.22 425.39,428.42 426.75,428.60 428.10,428.78" fill="none" stroke="#767676" stroke-width="1.5" stroke-linejoin="round"/>
<path d="M225.00,430.41 226.35,428.42 227.71,426.55 229.06,424.77 230.42,423.07 231.77,421.42 233.12,419.81 234.48,418.19 235.83,416.57 237.19,414.90 238.54,413.18 239.89,411.37 241.25,409.46 242.60,407.42 243.96,405.24 245.31,402.88 246.66,400.34 248.02,397.62 249.37,394.75 250.73,391.74 252.08,388.62 253.43,385.40 254.79,382.11 256.14,378.76 257.50,375.38 258.85,371.97 260.20,368.55 261.56,365.14 262.91,361.76 264.27,358.43 265.62,355.15 266.97,351.95 268.33,348.84 269.68,345.85 271.04,342.98 272.39,340.25 273.74,337.68 275.10,335.29 276.45,333.08 277.81,331.08 279.16,329.29 280.51,327.72 281.87,326.37 283.22,325.25 284.58,324.38 285.93,323.75 287.28,323.39 288.64,323.29 289.99,323.45 291.35,323.83 292.70,324.39 294.05,325.09 295.41,325.87 296.76,326.70 298.12,327.54 299.47,328.37 300.82,329.21 302.18,330.07 303.53,330.96 304.89,331.90 306.24,332.91 307.59,333.98 308.95,335.14 310.30,336.38 311.66,337.69 313.01,339.07 314.36,340.51 315.72,342.01 317.07,343.56 318.43,345.16 319.78,346.80 321.13,348.47 322.49,350.18 323.84,351.91 325.20,353.66 326.55,355.42 327.90,357.20 329.26,358.98 330.61,360.76 331.97,362.55 333.32,364.34 334.67,366.13 336.03,367.92 337.38,369.70 338.74,371.48 340.09,373.26 341.44,375.03 342.80,376.80 344.15,378.55 345.51,380.29 346.86,382.03 348.21,383.75 349.57,385.45 350.92,387.12 352.28,388.77 353.63,390.38 354.98,391.94 356.34,393.45 357.69,394.90 359.05,396.28 360.40,397.59 361.75,398.82 363.11,399.97 364.46,401.04 365.82,402.04 367.17,402.98 368.52,403.88 369.88,404.73 371.23,405.55 372.59,406.35 373.94,407.13 375.29,407.89 376.65,408.63 378.00,409.34 379.36,410.04 380.71,410.72 382.06,411.38 383.42,412.02 384.77,412.63 386.13,413.23 387.48,413.82 388.83,414.38 390.19,414.93 391.54,415.45 392.90,415.96 394.25,416.46 395.60,416.93 396.96,417.39 398.31,417.83 399.67,418.26 401.02,418.67 402.37,419.06 403.73,419.44 405.08,419.80 406.44,420.15 407.79,420.48 409.14,420.80 410.50,421.10 411.85,421.39 413.21,421.66 414.56,421.92 415.91,422.17 417.27,422.41 418.62,422.63 419.98,422.83 421.33,423.03 422.68,423.21 424.04,423.39 425.39,423.55 426.75,423.69 428.10,423.83" fill="none" stroke="#767676" stroke-width="1.5" stroke-dasharray="4.5 1.9" stroke-linejoin="round"/>
<path d="M225.00,431.59 226.35,430.57 227.71,429.51 229.06,428.43 230.42,427.32 231.77,426.19 233.12,425.03 234.48,423.84 235.83,422.63 237.19,421.39 238.54,420.14 239.89,418.86 241.25,417.56 242.60,416.24 243.96,414.90 245.31,413.55 246.66,412.17 248.02,410.76 249.37,409.29 250.73,407.75 252.08,406.11 253.43,404.35 254.79,402.46 256.14,400.41 257.50,398.18 258.85,395.79 260.20,393.32 261.56,390.93 262.91,388.71 264.27,386.71 265.62,384.83 266.97,382.99 268.33,381.11 269.68,379.19 271.04,377.33 272.39,375.61 273.74,374.06 275.10,372.67 276.45,371.45 277.81,370.38 279.16,369.47 280.51,368.72 281.87,368.12 283.22,367.67 284.58,367.37 285.93,367.21 287.28,367.20 288.64,367.33 289.99,367.60 291.35,368.01 292.70,368.55 294.05,369.20 295.41,369.93 296.76,370.72 298.12,371.54 299.47,372.37 300.82,373.17 302.18,373.94 303.53,374.66 304.89,375.35 306.24,376.02 307.59,376.69 308.95,377.38 310.30,378.08 311.66,378.82 313.01,379.59 314.36,380.41 315.72,381.28 317.07,382.21 318.43,383.20 319.78,384.28 321.13,385.44 322.49,386.69 323.84,388.03 325.20,389.44 326.55,390.89 327.90,392.34 329.26,393.77 330.61,395.15 331.97,396.44 333.32,397.63 334.67,398.73 336.03,399.77 337.38,400.77 338.74,401.74 340.09,402.71 341.44,403.70 342.80,404.71 344.15,405.75 345.51,406.81 346.86,407.88 348.21,408.95 349.57,410.02 350.92,411.07 352.28,412.10 353.63,413.10 354.98,414.06 356.34,414.97 357.69,415.83 359.05,416.63 360.40,417.36 361.75,418.01 363.11,418.58 364.46,419.08 365.82,419.53 367.17,419.96 368.52,420.38 369.88,420.79 371.23,421.19 372.59,421.59 373.94,421.97 375.29,422.35 376.65,422.73 378.00,423.09 379.36,423.45 380.71,423.80 382.06,424.14 383.42,424.47 384.77,424.79 386.13,425.11 387.48,425.42 388.83,425.72 390.19,426.01 391.54,426.29 392.90,426.57 394.25,426.83 395.60,427.09 396.96,427.34 398.31,427.58 399.67,427.81 401.02,428.03 402.37,428.24 403.73,428.45 405.08,428.64 406.44,428.82 407.79,429.00 409.14,429.16 410.50,429.32 411.85,429.47 413.21,429.60 414.56,429.73 415.91,429.85 417.27,429.95 418.62,430.05 419.98,430.14 421.33,430.21 422.68,430.28 424.04,430.34 425.39,430.38 426.75,430.42 428.10,430.44" fill="none" stroke="#767676" stroke-width="1.5" stroke-dasharray="2.2 1.7" stroke-linejoin="round"/>
<path d="M225.00,434.16 226.35,433.57 227.71,432.94 229.06,432.29 230.42,431.60 231.77,430.88 233.12,430.13 234.48,429.34 235.83,428.52 237.19,427.67 238.54,426.78 239.89,425.86 241.25,424.91 242.60,423.92 243.96,422.90 245.31,421.84 246.66,420.75 248.02,419.62 249.37,418.46 250.73,417.26 252.08,416.03 253.43,414.76 254.79,413.45 256.14,412.11 257.50,410.74 258.85,409.32 260.20,407.87 261.56,406.38 262.91,404.86 264.27,403.32 265.62,401.78 266.97,400.27 268.33,398.79 269.68,397.38 271.04,396.06 272.39,394.83 273.74,393.71 275.10,392.71 276.45,391.84 277.81,391.08 279.16,390.43 280.51,389.90 281.87,389.47 283.22,389.14 284.58,388.90 285.93,388.75 287.28,388.69 288.64,388.71 289.99,388.80 291.35,388.95 292.70,389.18 294.05,389.46 295.41,389.79 296.76,390.18 298.12,390.61 299.47,391.08 300.82,391.60 302.18,392.16 303.53,392.75 304.89,393.38 306.24,394.04 307.59,394.74 308.95,395.46 310.30,396.20 311.66,396.97 313.01,397.76 314.36,398.57 315.72,399.40 317.07,400.24 318.43,401.10 319.78,401.96 321.13,402.84 322.49,403.73 323.84,404.62 325.20,405.52 326.55,406.42 327.90,407.33 329.26,408.24 330.61,409.14 331.97,410.05 333.32,410.95 334.67,411.84 336.03,412.73 337.38,413.61 338.74,414.48 340.09,415.34 341.44,416.18 342.80,417.01 344.15,417.83 345.51,418.62 346.86,419.40 348.21,420.16 349.57,420.89 350.92,421.60 352.28,422.28 353.63,422.94 354.98,423.57 356.34,424.17 357.69,424.73 359.05,425.26 360.40,425.76 361.75,426.22 363.11,426.65 364.46,427.04 365.82,427.41 367.17,427.74 368.52,428.06 369.88,428.35 371.23,428.62 372.59,428.88 373.94,429.12 375.29,429.35 376.65,429.56 378.00,429.77 379.36,429.98 380.71,430.18 382.06,430.38 383.42,430.59 384.77,430.79 386.13,430.99 387.48,431.18 388.83,431.38 390.19,431.57 391.54,431.77 392.90,431.96 394.25,432.14 395.60,432.33 396.96,432.51 398.31,432.69 399.67,432.86 401.02,433.03 402.37,433.20 403.73,433.36 405.08,433.51 406.44,433.66 407.79,433.81 409.14,433.95 410.50,434.08 411.85,434.21 413.21,434.33 414.56,434.44 415.91,434.55 417.27,434.65 418.62,434.74 419.98,434.82 421.33,434.89 422.68,434.96 424.04,435.02 425.39,435.07 426.75,435.11 428.10,435.14" fill="none" stroke="#1ec81e" stroke-width="1.8" stroke-linejoin="round"/>
<path d="M225.00,433.21 226.35,432.58 227.71,431.86 229.06,431.03 230.42,430.11 231.77,429.10 233.12,428.00 234.48,426.82 235.83,425.56 237.19,424.23 238.54,422.82 239.89,421.34 241.25,419.80 242.60,418.20 243.96,416.55 245.31,414.84 246.66,413.08 248.02,411.27 249.37,409.42 250.73,407.54 252.08,405.62 253.43,403.67 254.79,401.69 256.14,399.69 257.50,397.67 258.85,395.64 260.20,393.60 261.56,391.54 262.91,389.50 264.27,387.48 265.62,385.50 266.97,383.57 268.33,381.71 269.68,379.93 271.04,378.26 272.39,376.70 273.74,375.27 275.10,373.99 276.45,372.86 277.81,371.90 279.16,371.08 280.51,370.40 281.87,369.87 283.22,369.47 284.58,369.20 285.93,369.05 287.28,369.01 288.64,369.09 289.99,369.27 291.35,369.56 292.70,369.93 294.05,370.40 295.41,370.95 296.76,371.58 298.12,372.27 299.47,373.04 300.82,373.86 302.18,374.74 303.53,375.67 304.89,376.65 306.24,377.66 307.59,378.70 308.95,379.77 310.30,380.87 311.66,381.97 313.01,383.10 314.36,384.25 315.72,385.41 317.07,386.59 318.43,387.80 319.78,389.02 321.13,390.27 322.49,391.54 323.84,392.83 325.20,394.13 326.55,395.44 327.90,396.75 329.26,398.06 330.61,399.37 331.97,400.66 333.32,401.94 334.67,403.20 336.03,404.44 337.38,405.65 338.74,406.82 340.09,407.96 341.44,409.06 342.80,410.12 344.15,411.14 345.51,412.11 346.86,413.06 348.21,413.96 349.57,414.83 350.92,415.67 352.28,416.48 353.63,417.25 354.98,418.00 356.34,418.71 357.69,419.40 359.05,420.06 360.40,420.69 361.75,421.30 363.11,421.89 364.46,422.45 365.82,422.99 367.17,423.51 368.52,424.01 369.88,424.48 371.23,424.94 372.59,425.37 373.94,425.79 375.29,426.19 376.65,426.57 378.00,426.93 379.36,427.28 380.71,427.61 382.06,427.92 383.42,428.22 384.77,428.50 386.13,428.77 387.48,429.03 388.83,429.27 390.19,429.51 391.54,429.73 392.90,429.94 394.25,430.14 395.60,430.32 396.96,430.50 398.31,430.67 399.67,430.84 401.02,430.99 402.37,431.14 403.73,431.28 405.08,431.42 406.44,431.55 407.79,431.68 409.14,431.80 410.50,431.92 411.85,432.03 413.21,432.15 414.56,432.26 415.91,432.37 417.27,432.48 418.62,432.59 419.98,432.70 421.33,432.81 422.68,432.92 424.04,433.04 425.39,433.16 426.75,433.28 428.10,433.41" fill="none" stroke="#1ec81e" stroke-width="1.8" stroke-dasharray="4.6 1.9" stroke-linejoin="round"/>
<path d="M225.00,437.15 226.35,436.64 227.71,436.19 229.06,435.77 230.42,435.39 231.77,435.04 233.12,434.70 234.48,434.39 235.83,434.08 237.19,433.77 238.54,433.45 239.89,433.12 241.25,432.78 242.60,432.41 243.96,432.00 245.31,431.56 246.66,431.07 248.02,430.53 249.37,429.96 250.73,429.36 252.08,428.72 253.43,428.05 254.79,427.35 256.14,426.63 257.50,425.90 258.85,425.15 260.20,424.39 261.56,423.63 262.91,422.87 264.27,422.12 265.62,421.38 266.97,420.65 268.33,419.94 269.68,419.26 271.04,418.61 272.39,417.99 273.74,417.42 275.10,416.89 276.45,416.40 277.81,415.96 279.16,415.56 280.51,415.20 281.87,414.88 283.22,414.58 284.58,414.32 285.93,414.07 287.28,413.88 288.64,413.74 289.99,413.69 291.35,413.73 292.70,413.86 294.05,414.07 295.41,414.34 296.76,414.66 298.12,415.00 299.47,415.36 300.82,415.71 302.18,416.04 303.53,416.33 304.89,416.56 306.24,416.72 307.59,416.84 308.95,416.93 310.30,417.03 311.66,417.16 313.01,417.34 314.36,417.58 315.72,417.90 317.07,418.28 318.43,418.70 319.78,419.14 321.13,419.58 322.49,420.00 323.84,420.41 325.20,420.81 326.55,421.22 327.90,421.63 329.26,422.04 330.61,422.47 331.97,422.92 333.32,423.37 334.67,423.84 336.03,424.31 337.38,424.79 338.74,425.27 340.09,425.74 341.44,426.21 342.80,426.67 344.15,427.12 345.51,427.55 346.86,427.96 348.21,428.35 349.57,428.71 350.92,429.05 352.28,429.35 353.63,429.63 354.98,429.88 356.34,430.10 357.69,430.31 359.05,430.51 360.40,430.69 361.75,430.87 363.11,431.04 364.46,431.20 365.82,431.35 367.17,431.50 368.52,431.64 369.88,431.77 371.23,431.90 372.59,432.03 373.94,432.15 375.29,432.26 376.65,432.37 378.00,432.48 379.36,432.58 380.71,432.68 382.06,432.78 383.42,432.87 384.77,432.96 386.13,433.05 387.48,433.14 388.83,433.23 390.19,433.32 391.54,433.40 392.90,433.49 394.25,433.57 395.60,433.66 396.96,433.75 398.31,433.83 399.67,433.92 401.02,434.01 402.37,434.09 403.73,434.18 405.08,434.27 406.44,434.35 407.79,434.43 409.14,434.51 410.50,434.59 411.85,434.66 413.21,434.73 414.56,434.80 415.91,434.87 417.27,434.93 418.62,434.99 419.98,435.04 421.33,435.09 422.68,435.13 424.04,435.17 425.39,435.20 426.75,435.23 428.10,435.25" fill="none" stroke="#1ec81e" stroke-width="1.8" stroke-dasharray="2.4 1.5" stroke-linejoin="round"/>
<path d="M441.90,312.70 H457.30" stroke="#141414" stroke-width="1.85"/><g transform="translate(464.39,316.70) scale(0.985,1.000)"><text x="0" y="0" font-size="11.4" font-weight="normal" text-anchor="start" fill="#1e1e1e" stroke="#1e1e1e" stroke-width="0.12">E1P47</text></g>
<path d="M441.90,329.90 H457.30" stroke="#1ec81e" stroke-width="1.8"/><g transform="translate(464.42,333.20) scale(1.080,1.000)"><text x="0" y="0" font-size="11" font-weight="normal" text-anchor="start" fill="#1e1e1e" stroke="#1e1e1e" stroke-width="0.12">PA1</text></g><g transform="translate(485.71,335.70) scale(1.030,1.000)"><text x="0" y="0" font-size="8.6" font-weight="normal" text-anchor="start" fill="#1e1e1e" stroke="#1e1e1e" stroke-width="0.12">PEG3</text></g>
<path d="M441.90,345.20 H457.30" stroke="#1ec81e" stroke-width="1.8" stroke-dasharray="4.6 1.9"/><g transform="translate(464.42,348.50) scale(1.080,1.000)"><text x="0" y="0" font-size="11" font-weight="normal" text-anchor="start" fill="#1e1e1e" stroke="#1e1e1e" stroke-width="0.12">PA2</text></g><g transform="translate(485.71,351.00) scale(1.030,1.000)"><text x="0" y="0" font-size="8.6" font-weight="normal" text-anchor="start" fill="#1e1e1e" stroke="#1e1e1e" stroke-width="0.12">PEG3</text></g>
<path d="M441.90,360.70 H457.30" stroke="#1ec81e" stroke-width="1.8" stroke-dasharray="2.4 1.5"/><g transform="translate(464.42,364.00) scale(1.080,1.000)"><text x="0" y="0" font-size="11" font-weight="normal" text-anchor="start" fill="#1e1e1e" stroke="#1e1e1e" stroke-width="0.12">PA3</text></g><g transform="translate(485.71,366.50) scale(1.030,1.000)"><text x="0" y="0" font-size="8.6" font-weight="normal" text-anchor="start" fill="#1e1e1e" stroke="#1e1e1e" stroke-width="0.12">PEG3</text></g>
<path d="M441.90,378.30 H457.30" stroke="#767676" stroke-width="1.5"/><g transform="translate(464.42,381.60) scale(1.080,1.000)"><text x="0" y="0" font-size="11" font-weight="normal" text-anchor="start" fill="#1e1e1e" stroke="#1e1e1e" stroke-width="0.12">PA1</text></g><g transform="translate(485.71,384.10) scale(1.030,1.000)"><text x="0" y="0" font-size="8.6" font-weight="normal" text-anchor="start" fill="#1e1e1e" stroke="#1e1e1e" stroke-width="0.12">PEG27</text></g>
<path d="M441.90,394.20 H457.30" stroke="#767676" stroke-width="1.5" stroke-dasharray="4.5 1.9"/><g transform="translate(464.42,397.50) scale(1.080,1.000)"><text x="0" y="0" font-size="11" font-weight="normal" text-anchor="start" fill="#1e1e1e" stroke="#1e1e1e" stroke-width="0.12">PA2</text></g><g transform="translate(485.71,400.00) scale(1.030,1.000)"><text x="0" y="0" font-size="8.6" font-weight="normal" text-anchor="start" fill="#1e1e1e" stroke="#1e1e1e" stroke-width="0.12">PEG27</text></g>
<path d="M441.90,409.70 H457.30" stroke="#767676" stroke-width="1.5" stroke-dasharray="2.2 1.7"/><g transform="translate(464.42,413.00) scale(1.080,1.000)"><text x="0" y="0" font-size="11" font-weight="normal" text-anchor="start" fill="#1e1e1e" stroke="#1e1e1e" stroke-width="0.12">PA3</text></g><g transform="translate(485.71,415.50) scale(1.030,1.000)"><text x="0" y="0" font-size="8.6" font-weight="normal" text-anchor="start" fill="#1e1e1e" stroke="#1e1e1e" stroke-width="0.12">PEG27</text></g>
</g>
</svg></body></html>
